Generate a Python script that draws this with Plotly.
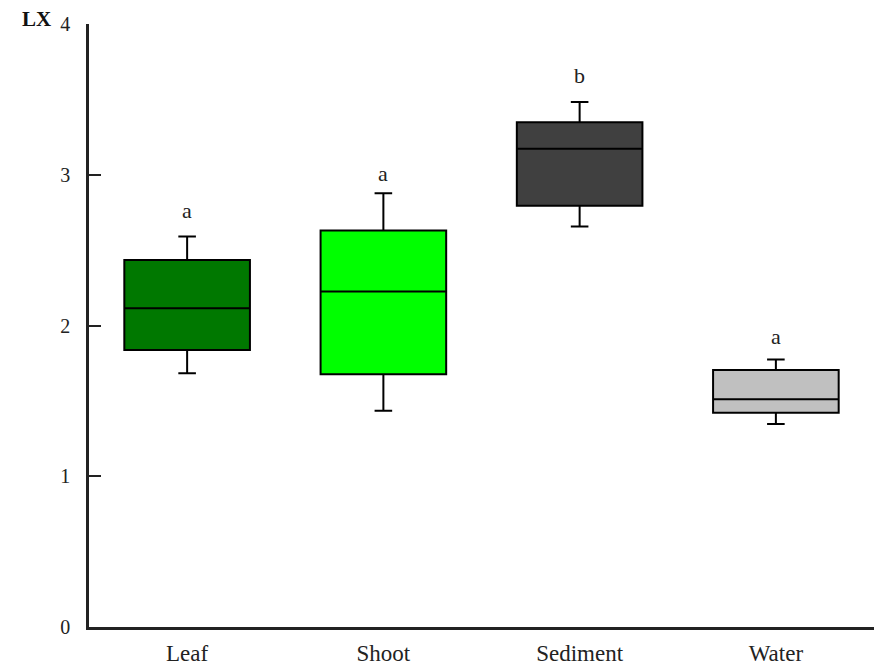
import plotly.graph_objects as go

categories = ["Leaf", "Shoot", "Sediment", "Water"]
lower = [1.683, 1.434, 2.656, 1.346]
q1 = [1.837, 1.676, 2.794, 1.421]
median = [2.114, 2.225, 3.172, 1.510]
q3 = [2.435, 2.630, 3.349, 1.705]
upper = [2.590, 2.878, 3.482, 1.775]
colors = ["#007800", "#00FF00", "#404040", "#C0C0C0"]
letters = ["a", "a", "b", "a"]
letter_y = [2.76, 3.01, 3.66, 1.93]
y_ticks = [0, 1, 2, 3, 4]

fig = go.Figure()
for i, c in enumerate(categories):
    fig.add_trace(go.Box(
        x=[c], q1=[q1[i]], median=[median[i]], q3=[q3[i]],
        lowerfence=[lower[i]], upperfence=[upper[i]],
        fillcolor=colors[i], line=dict(color="black", width=2),
        width=0.64, whiskerwidth=0.14, boxpoints=False,
        showlegend=False, hoverinfo="skip",
    ))
    fig.add_annotation(x=c, y=letter_y[i], text=letters[i], showarrow=False,
                       xref="x", yref="y", yanchor="middle",
                       font=dict(family="Liberation Serif", size=22, color="#222"))

fig.add_annotation(x=0, y=1, xref="paper", yref="paper", text="<b>LX</b>",
                   showarrow=False, xshift=-36, yshift=5, xanchor="right", yanchor="middle",
                   font=dict(family="Liberation Serif", size=21, color="#111"))

fig.update_layout(
    width=875, height=670,
    margin=dict(l=89, r=1, t=24, b=43),
    paper_bgcolor="white", plot_bgcolor="white",
    boxmode="overlay",
    font=dict(family="Liberation Serif", color="#222"),
    xaxis=dict(
        type="category", categoryorder="array", categoryarray=categories,
        range=[-0.5, 3.5], showgrid=False, zeroline=False,
        showline=True, linecolor="#222", linewidth=2.5,
        ticks="", tickfont=dict(size=23), ticklabelstandoff=4,
    ),
    yaxis=dict(
        range=[0, 4], tickvals=y_ticks, showgrid=False, zeroline=False,
        showline=True, linecolor="#222", linewidth=2.5,
        ticks="inside", ticklen=12, tickwidth=2, tickcolor="#222",
        tickfont=dict(size=20), ticklabelstandoff=12,
    ),
)

fig.write_html("out.html")
